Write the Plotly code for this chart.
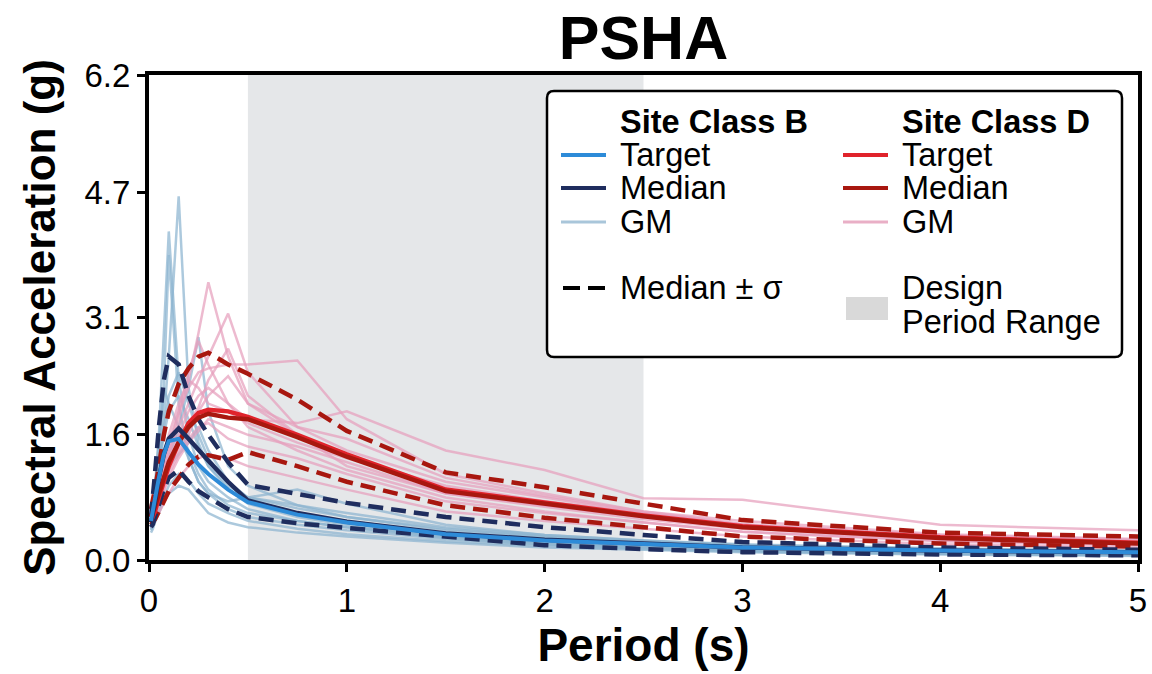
import plotly.graph_objects as go

# ---------------------------------------------------------------- data
periods = [0.01, 0.02, 0.03, 0.05, 0.075, 0.1, 0.15, 0.2, 0.25, 0.3,
           0.4, 0.5, 0.75, 1.0, 1.5, 2.0, 2.5, 3.0, 4.0, 5.0]

# Site Class B
b_target = [0.50, 0.62, 0.78, 1.05, 1.35, 1.52, 1.55, 1.38, 1.22, 1.10,
            0.90, 0.74, 0.58, 0.48, 0.33, 0.25, 0.20, 0.16, 0.12, 0.10]
b_median = [0.48, 0.60, 0.75, 1.05, 1.35, 1.55, 1.68, 1.55, 1.40, 1.27,
            1.00, 0.76, 0.60, 0.49, 0.34, 0.26, 0.21, 0.16, 0.12, 0.10]
b_plus_sigma = [0.55, 0.80, 1.10, 1.70, 2.30, 2.60, 2.50, 2.10, 1.80, 1.60,
                1.25, 0.96, 0.84, 0.73, 0.55, 0.42, 0.32, 0.23, 0.16, 0.13]
b_minus_sigma = [0.42, 0.46, 0.55, 0.72, 0.90, 1.05, 1.15, 1.00, 0.88, 0.80,
                 0.65, 0.55, 0.47, 0.41, 0.30, 0.19, 0.14, 0.10, 0.07, 0.06]
b_gm_records = [
    [0.45, 0.55, 0.70, 1.10, 1.80, 2.60, 4.65, 2.20, 1.50, 1.20, 0.90, 0.72, 0.55, 0.45, 0.30, 0.22, 0.17, 0.13, 0.09, 0.07],
    [0.50, 0.65, 0.90, 1.60, 2.90, 4.20, 2.30, 1.60, 1.20, 1.00, 0.80, 0.65, 0.50, 0.42, 0.28, 0.20, 0.16, 0.12, 0.09, 0.07],
    [0.40, 0.48, 0.55, 0.75, 1.00, 1.30, 1.70, 2.20, 2.85, 1.90, 1.20, 0.95, 0.70, 0.55, 0.38, 0.30, 0.23, 0.18, 0.13, 0.10],
    [0.42, 0.50, 0.65, 1.20, 2.20, 3.90, 2.00, 1.30, 1.00, 0.85, 0.65, 0.55, 0.45, 0.38, 0.27, 0.20, 0.15, 0.12, 0.08, 0.06],
    [0.55, 0.70, 0.95, 1.50, 2.20, 2.00, 1.70, 1.40, 1.10, 0.90, 0.70, 0.60, 0.50, 0.42, 0.30, 0.23, 0.18, 0.14, 0.10, 0.08],
    [0.35, 0.40, 0.48, 0.60, 0.75, 0.85, 0.95, 0.90, 0.75, 0.60, 0.48, 0.42, 0.35, 0.30, 0.22, 0.16, 0.13, 0.10, 0.07, 0.05],
    [0.45, 0.55, 0.70, 0.95, 1.25, 1.50, 1.60, 1.30, 1.00, 0.85, 0.75, 0.80, 0.90, 0.72, 0.45, 0.32, 0.25, 0.19, 0.13, 0.10],
    [0.40, 0.45, 0.50, 0.62, 0.80, 0.95, 1.10, 1.02, 0.85, 0.72, 0.60, 0.50, 0.40, 0.33, 0.24, 0.18, 0.14, 0.11, 0.08, 0.06],
    [0.50, 0.62, 0.80, 1.15, 1.60, 1.90, 2.10, 1.80, 1.45, 1.20, 0.95, 0.80, 0.66, 0.55, 0.40, 0.30, 0.24, 0.19, 0.14, 0.11],
    [0.48, 0.60, 0.78, 1.20, 1.70, 2.10, 2.40, 2.00, 1.60, 1.30, 1.00, 0.78, 0.60, 0.50, 0.35, 0.27, 0.21, 0.16, 0.12, 0.10],
    [0.38, 0.44, 0.52, 0.70, 0.95, 1.20, 1.35, 1.50, 1.70, 1.40, 1.00, 0.80, 0.70, 0.60, 0.42, 0.32, 0.25, 0.20, 0.15, 0.12],
]

# Site Class D
d_target = [0.50, 0.55, 0.62, 0.80, 1.00, 1.20, 1.50, 1.75, 1.88, 1.92,
            1.90, 1.83, 1.60, 1.35, 0.90, 0.73, 0.57, 0.43, 0.29, 0.22]
d_median = [0.55, 0.60, 0.68, 0.85, 1.05, 1.25, 1.50, 1.70, 1.82, 1.87,
            1.82, 1.80, 1.57, 1.32, 0.88, 0.72, 0.56, 0.42, 0.28, 0.21]
d_plus_sigma = [0.65, 0.75, 0.90, 1.20, 1.60, 1.90, 2.25, 2.45, 2.60, 2.65,
                2.50, 2.38, 2.05, 1.65, 1.12, 0.93, 0.72, 0.51, 0.35, 0.30]
d_minus_sigma = [0.45, 0.48, 0.52, 0.62, 0.75, 0.88, 1.05, 1.22, 1.32, 1.34,
                 1.28, 1.38, 1.20, 1.00, 0.70, 0.54, 0.42, 0.30, 0.21, 0.17]
d_gm_records = [
    [0.50, 0.55, 0.62, 0.80, 1.00, 1.30, 1.80, 2.30, 2.90, 3.55, 2.60, 2.00, 1.60, 1.35, 0.90, 0.70, 0.55, 0.42, 0.28, 0.22],
    [0.55, 0.60, 0.70, 0.90, 1.10, 1.40, 1.70, 2.00, 2.30, 2.60, 3.15, 2.40, 1.70, 1.40, 1.00, 0.80, 0.60, 0.45, 0.30, 0.24],
    [0.60, 0.66, 0.75, 0.95, 1.20, 1.50, 1.90, 2.20, 2.40, 2.45, 2.50, 2.50, 2.55, 1.80, 1.10, 0.85, 0.62, 0.46, 0.32, 0.26],
    [0.50, 0.56, 0.65, 0.85, 1.10, 1.40, 1.90, 2.40, 2.80, 2.50, 2.00, 1.70, 1.40, 1.15, 0.80, 0.62, 0.48, 0.36, 0.25, 0.20],
    [0.60, 0.65, 0.72, 0.90, 1.10, 1.30, 1.60, 1.90, 2.10, 2.20, 2.00, 1.80, 1.75, 1.90, 1.40, 1.15, 0.79, 0.77, 0.45, 0.38],
    [0.45, 0.50, 0.56, 0.70, 0.88, 1.05, 1.30, 1.50, 1.65, 1.80, 1.70, 1.60, 1.45, 1.25, 0.85, 0.70, 0.55, 0.42, 0.28, 0.22],
    [0.42, 0.45, 0.50, 0.60, 0.72, 0.85, 1.05, 1.20, 1.30, 1.35, 1.30, 1.20, 1.05, 0.90, 0.62, 0.50, 0.40, 0.30, 0.20, 0.16],
    [0.55, 0.62, 0.72, 0.95, 1.25, 1.60, 2.00, 2.30, 2.20, 2.00, 1.90, 1.75, 1.50, 1.30, 0.95, 0.75, 0.60, 0.45, 0.30, 0.25],
    [0.50, 0.55, 0.60, 0.75, 0.95, 1.15, 1.40, 1.60, 1.90, 2.10, 2.35, 2.00, 1.70, 1.55, 1.05, 0.82, 0.62, 0.50, 0.33, 0.27],
    [0.48, 0.52, 0.58, 0.72, 0.90, 1.10, 1.35, 1.55, 1.70, 1.75, 1.55, 1.45, 1.30, 1.10, 0.75, 0.60, 0.48, 0.36, 0.24, 0.19],
    [0.52, 0.58, 0.66, 0.85, 1.05, 1.25, 1.55, 1.75, 1.95, 2.30, 2.70, 2.10, 1.60, 1.20, 0.85, 0.68, 0.52, 0.40, 0.27, 0.22],
]

design_range = [0.5, 2.5]
x_ticks = [0, 1, 2, 3, 4, 5]
y_ticks = [0.0, 1.6, 3.1, 4.7, 6.2]
y_tick_labels = ["0.0", "1.6", "3.1", "4.7", "6.2"]

# ---------------------------------------------------------------- styles
C_B_TARGET = "#2d8bd8"
C_B_MEDIAN = "#1f2d5e"
C_B_GM = "rgba(140,180,208,0.72)"
C_D_TARGET = "#e0232b"
C_D_MEDIAN = "#a8170f"
C_D_GM = "rgba(230,160,188,0.72)"
C_BAND = "#e5e7e9"
DASH = "15px,8px"
FONT = "Liberation Sans, Arial, sans-serif"

W, H = 1152, 674
M_L, M_R, M_T, M_B = 149, 14, 75, 114
PW = W - M_L - M_R
PH = H - M_T - M_B


def px(x):
    """Horizontal pixel position -> paper fraction."""
    return (x - M_L) / PW


def py(y):
    """Vertical pixel position (from top) -> paper fraction."""
    return (H - M_B - y) / PH


fig = go.Figure()


def add_line(y, color, width, dash=None):
    fig.add_trace(go.Scatter(
        x=periods, y=y, mode="lines", showlegend=False, hoverinfo="skip",
        line=dict(color=color, width=width, dash=dash),
    ))


for rec in b_gm_records:
    add_line(rec, C_B_GM, 2.5)
for rec in d_gm_records:
    add_line(rec, C_D_GM, 2.5)

add_line(d_plus_sigma, C_D_MEDIAN, 4.5, DASH)
add_line(d_minus_sigma, C_D_MEDIAN, 4.5, DASH)
add_line(b_plus_sigma, C_B_MEDIAN, 4.5, DASH)
add_line(b_minus_sigma, C_B_MEDIAN, 4.5, DASH)

add_line(d_target, C_D_TARGET, 4.5)
add_line(d_median, C_D_MEDIAN, 4.5)
add_line(b_median, C_B_MEDIAN, 4.5)
add_line(b_target, C_B_TARGET, 4)

# design period band
fig.add_shape(type="rect", xref="x", yref="paper",
              x0=design_range[0], x1=design_range[1], y0=0, y1=1,
              fillcolor=C_BAND, line_width=0, layer="below")

# ---------------------------------------------------------------- legend
box_l, box_t, box_r, box_b, rad = 547, 91, 1122, 357, 7
rx, ry = rad / PW, rad / PH
L, R, T, B = px(box_l), px(box_r), py(box_t), py(box_b)
box_path = (
    f"M{L + rx},{T} L{R - rx},{T} Q{R},{T} {R},{T - ry} "
    f"L{R},{B + ry} Q{R},{B} {R - rx},{B} "
    f"L{L + rx},{B} Q{L},{B} {L},{B + ry} "
    f"L{L},{T - ry} Q{L},{T} {L + rx},{T} Z"
)
fig.add_shape(type="path", path=box_path, xref="paper", yref="paper",
              fillcolor="white", line=dict(color="black", width=2.5),
              layer="above")

col_x = [561, 843]
key_len = 45
text_gap = 60
rows = [122, 155, 188, 222]
lower_row = 288
row_step = 34

columns = [
    ("Site Class B", [("Target", C_B_TARGET, 4), ("Median", C_B_MEDIAN, 4),
                      ("GM", "#a9c6da", 3)]),
    ("Site Class D", [("Target", C_D_TARGET, 4), ("Median", C_D_MEDIAN, 4),
                      ("GM", "#e9afc6", 3)]),
]


def legend_text(x, y, text, bold=False):
    fig.add_annotation(
        x=px(x), y=py(y), xref="paper", yref="paper", text=text,
        showarrow=False, xanchor="left", yanchor="middle",
        font=dict(family=FONT, size=32.5, color="black",
                  weight="bold" if bold else "normal"),
    )


for cx, (header, items) in zip(col_x, columns):
    legend_text(cx + text_gap - 3, rows[0], header, bold=True)
    for (label, color, width), ry_ in zip(items, rows[1:]):
        fig.add_shape(type="line", xref="paper", yref="paper",
                      x0=px(cx), x1=px(cx + key_len), y0=py(ry_), y1=py(ry_),
                      line=dict(color=color, width=width), layer="above")
        legend_text(cx + text_gap - 3, ry_, label)

# Median ± sigma key
fig.add_shape(type="line", xref="paper", yref="paper",
              x0=px(col_x[0] + 2), x1=px(col_x[0] + 44),
              y0=py(lower_row), y1=py(lower_row),
              line=dict(color="black", width=4, dash="17px,8px"), layer="above")
legend_text(col_x[0] + text_gap - 3, lower_row, "Median ± σ")

# design range key
fig.add_shape(type="rect", xref="paper", yref="paper",
              x0=px(col_x[1] + 3), x1=px(col_x[1] + 45),
              y0=py(lower_row + 9), y1=py(lower_row + 32),
              fillcolor="#d9d9d9", line_width=0, layer="above")
legend_text(col_x[1] + text_gap - 3, lower_row, "Design")
legend_text(col_x[1] + text_gap - 3, lower_row + row_step, "Period Range")

# ---------------------------------------------------------------- layout
axis_common = dict(
    showline=True, linecolor="black", linewidth=4, mirror=True,
    ticks="outside", ticklen=8, tickwidth=2.5, tickcolor="black",
    showgrid=False, zeroline=False,
    tickfont=dict(family=FONT, size=33, color="black"),
)

fig.update_layout(
    width=W, height=H,
    margin=dict(l=M_L, r=M_R, t=M_T, b=M_B, autoexpand=False),
    paper_bgcolor="white", plot_bgcolor="white",
    showlegend=False,
    title=dict(text="PSHA", x=0.5, xref="paper", xanchor="center",
               y=1 - 38 / H, yref="container", yanchor="middle",
               font=dict(family=FONT, size=61, color="black", weight="bold")),
    xaxis=dict(range=[0, 5], tickvals=x_ticks,
               title=dict(text="Period (s)", standoff=8,
                          font=dict(family=FONT, size=46, color="black",
                                    weight="bold")),
               **axis_common),
    yaxis=dict(range=[0, 6.2], tickvals=y_ticks, ticktext=y_tick_labels,
               title=dict(text="Spectral Acceleration (g)", standoff=16,
                          font=dict(family=FONT, size=44, color="black",
                                    weight="bold")),
               **axis_common),
)

fig.write_html("out.html")
